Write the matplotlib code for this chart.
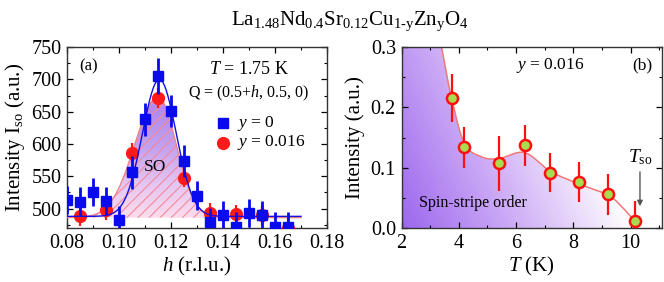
import numpy as np
import matplotlib
matplotlib.use("Agg")
import matplotlib.pyplot as plt
from matplotlib.colors import LinearSegmentedColormap
from matplotlib.patches import Polygon
from matplotlib.ticker import MultipleLocator

plt.rcParams['font.family'] = ['Liberation Serif', 'DejaVu Serif']
plt.rcParams['mathtext.fontset'] = 'custom'
plt.rcParams['mathtext.rm'] = 'Liberation Serif'
plt.rcParams['mathtext.it'] = 'Liberation Serif:italic'
plt.rcParams['hatch.linewidth'] = 0.8

# panel (a): y = 0 (blue squares)
h_y0 = [0.080, 0.085, 0.090, 0.095, 0.100, 0.105, 0.110, 0.115, 0.120,
        0.125, 0.130, 0.135, 0.140, 0.145, 0.150, 0.155, 0.160, 0.165]
I_y0 = [513, 511, 526, 512, 482, 556, 638, 705, 651,
        574, 520, 479, 490, 472, 493, 490, 472, 472]
e_y0 = [22, 22, 22, 22, 22, 25, 25, 28, 25, 25, 22, 22, 22, 22, 22, 22, 22, 22]

# panel (a): y = 0.016 (red circles)
h_y16 = [0.085, 0.095, 0.105, 0.115, 0.125, 0.135, 0.145, 0.155, 0.165]
I_y16 = [488, 498, 586, 671, 548, 493, 491, 490, 470]
e_y16 = [15, 15, 15, 15, 15, 15, 15, 15, 15]

# fit parameters
fit_y0 = dict(x0=0.1155, amp=212, base=488, sig=0.0065)
fit_y16 = dict(x0=0.1150, amp=187, base=486, sigl=0.0090, sigr=0.0070)

# panel (b): y = 0.016 temperature dependence
T = [3.75, 4.2, 5.4, 6.3, 7.2, 8.2, 9.2, 10.15]
I_T = [0.215, 0.134, 0.107, 0.137, 0.092, 0.076, 0.056, 0.011]
e_T = [0.040, 0.034, 0.045, 0.034, 0.033, 0.033, 0.034, 0.033]

# guide line through panel (b)
guide_T = [3.40, 3.75, 4.2, 4.8, 5.4, 6.3, 7.2, 8.2, 9.2, 9.7, 10.15]
guide_I = [0.300, 0.215, 0.140, 0.118, 0.115, 0.125, 0.094, 0.073, 0.055, 0.035, 0.011]


def catmull_rom(xs, ys, n=20):
    p = np.column_stack([xs, ys])
    p = np.vstack([p[0], p, p[-1]])
    out = []
    t = np.linspace(0, 1, n, endpoint=False)[:, None]
    for i in range(1, len(p) - 2):
        p0, p1, p2, p3 = p[i - 1], p[i], p[i + 1], p[i + 2]
        seg = 0.5 * ((2 * p1) + (-p0 + p2) * t + (2 * p0 - 5 * p1 + 4 * p2 - p3) * t**2
                     + (-p0 + 3 * p1 - 3 * p2 + p3) * t**3)
        out.append(seg)
    out.append(p[-2][None, :])
    out = np.vstack(out)
    return out[:, 0], out[:, 1]


def style_axes(ax):
    ax.tick_params(which='both', direction='in', top=True, right=True,
                   labelsize=14.5, pad=4)
    ax.tick_params(which='major', length=4.5, width=0.9)
    ax.tick_params(which='minor', length=2.5, width=0.8)
    for s in ax.spines.values():
        s.set_linewidth(1.0)
        s.set_color('#333333')


fig = plt.figure(figsize=(6.64, 2.82), dpi=100)
ax1 = fig.add_axes([0.101, 0.1915, 0.3915, 0.6415])
ax2 = fig.add_axes([0.6047, 0.1915, 0.3923, 0.6415])

# ---------------- panel (a)
hh = np.linspace(0.08, 0.17, 400)
g = fit_y16
sig = np.where(hh < g['x0'], g['sigl'], g['sigr'])
red_fit = g['base'] + g['amp'] * np.exp(-(hh - g['x0'])**2 / (2 * sig**2))
b = fit_y0
blue_fit = b['base'] + b['amp'] * np.exp(-(hh - b['x0'])**2 / (2 * b['sig']**2))

cmap_a = LinearSegmentedColormap.from_list('a', ['#fcdcec', '#e4c4f2', '#c4a2f0', '#b28cee'])
grad = np.clip(np.linspace(0, 1, 200) / 0.85, 0, 1)[:, None]
im = ax1.imshow(grad, cmap=cmap_a, origin='lower', aspect='auto', vmin=0, vmax=1,
                extent=[0.08, 0.17, g['base'], g['base'] + g['amp'] + 2], zorder=1)
poly = ax1.fill_between(hh, g['base'], red_fit, color='none', lw=0)
path = poly.get_paths()[0]
clip = Polygon(path.vertices, closed=True, transform=ax1.transData)
im.set_clip_path(clip)
ax1.fill_between(hh, g['base'], red_fit, facecolor='none', edgecolor='#f28a9a',
                 hatch='///', lw=0, zorder=2)
ax1.plot(hh, red_fit, color='#f28080', lw=0.9, zorder=3)

ax1.errorbar(h_y16, I_y16, yerr=e_y16, fmt='o', color='#ff1a1a', ms=8.5,
             elinewidth=1.6, capsize=0, zorder=4)
ax1.plot(hh, blue_fit, color='#1010e0', lw=1.0, zorder=5)
ax1.errorbar(h_y0, I_y0, yerr=e_y0, fmt='s', color='#0a0aee', ms=6.5,
             elinewidth=2.0, capsize=0, zorder=6)

ax1.set_xlim(0.08, 0.18)
ax1.set_ylim(470, 750)
ax1.xaxis.set_minor_locator(MultipleLocator(0.01))
ax1.yaxis.set_major_locator(MultipleLocator(50))
ax1.yaxis.set_minor_locator(MultipleLocator(25))
ax1.set_xticks([0.08, 0.10, 0.12, 0.14, 0.16, 0.18])
ax1.set_xticklabels(['0.08', '0.10', '0.12', '0.14', '0.16', '0.18'])
style_axes(ax1)
ax1.set_xlabel(r'$\mathit{h}$ (r.l.u.)', fontsize=15, labelpad=2)
ax1.set_ylabel(r'Intensity I$_{\mathrm{so}}$ (a.u.)', fontsize=15, labelpad=3)

ax1.text(0.0845, 720, '(a)', fontsize=12, va='center')
ax1.text(0.150, 716, r'$\mathit{T}$ = 1.75 K', fontsize=13, ha='center', va='center')
ax1.text(0.150, 679, r'Q = (0.5+$\mathit{h}$, 0.5, 0)', fontsize=11.5, ha='center', va='center')
ax1.plot([0.1398], [632], 's', color='#0a0aee', ms=6.5)
ax1.plot([0.1398], [602], 'o', color='#ff1a1a', ms=8.5)
ax1.text(0.1452, 632, r'$\mathit{y}$ = 0', fontsize=12.5, va='center')
ax1.text(0.1452, 602, r'$\mathit{y}$ = 0.016', fontsize=12.5, va='center')
ax1.text(0.1138, 565, 'SO', fontsize=12.5, ha='center', va='center', zorder=7)

# ---------------- panel (b)
cx, cy = catmull_rom(guide_T, guide_I)
verts = np.vstack([[[2.0, 0.0], [2.0, 0.3]], np.column_stack([cx, cy]), [[cx[-1], 0.0]]])
nx, ny = 300, 100
gx = np.linspace(0, 1, nx)[None, :]
gy = np.linspace(0, 1, ny)[:, None]
tt = np.clip(gx * 1.12 + gy * 0.35, 0, 1)
cmap_b = LinearSegmentedColormap.from_list('b', ['#9c68ee', '#cfaef6', '#ffffff'])
im2 = ax2.imshow(tt, cmap=cmap_b, origin='lower', aspect='auto',
                 extent=[2, 11.1, 0, 0.3], vmin=0, vmax=1, zorder=1)
clip2 = Polygon(verts, closed=True, transform=ax2.transData)
im2.set_clip_path(clip2)
ax2.plot(cx, cy, color='#f07878', lw=1.1, zorder=2)
ax2.errorbar(T, I_T, yerr=e_T, fmt='o', color='#ff1010', mfc='#a8dc50',
             mec='#ff1010', mew=1.8, ms=8, elinewidth=1.6, capsize=0, zorder=3)

ax2.set_xlim(2, 11.1)
ax2.set_ylim(0, 0.3)
ax2.xaxis.set_major_locator(MultipleLocator(2))
ax2.xaxis.set_minor_locator(MultipleLocator(1))
ax2.yaxis.set_minor_locator(MultipleLocator(0.05))
ax2.set_yticks([0.0, 0.1, 0.2, 0.3])
ax2.set_yticklabels(['0.0', '0.1', '0.2', '0.3'])
style_axes(ax2)
ax2.set_xlabel(r'$\mathit{T}$ (K)', fontsize=15, labelpad=2)
ax2.set_ylabel('Intensity (a.u.)', fontsize=15, labelpad=4)

ax2.text(7.2, 0.27, r'$\mathit{y}$ = 0.016', fontsize=12.5, ha='center', va='center')
ax2.text(10.4, 0.27, '(b)', fontsize=12.5, ha='center', va='center')
ax2.text(2.6, 0.041, 'Spin-stripe order', fontsize=11.5, va='center')
ax2.text(10.33, 0.118, r'$\mathit{T}_{\mathrm{so}}$', fontsize=14, ha='center', va='center')
ax2.annotate('', xy=(10.33, 0.036), xytext=(10.33, 0.093),
             arrowprops=dict(arrowstyle='-|>', color='#555555', lw=1.0,
                             mutation_scale=8, shrinkA=0, shrinkB=0))

fig.text(0.527, 0.925, r'La$_{1.48}$Nd$_{0.4}$Sr$_{0.12}$Cu$_{\text{1-y}}$Zn$_{\mathrm{y}}$O$_{4}$',
         fontsize=15, ha='center', va='center')

fig.savefig('out.png', dpi=100)
